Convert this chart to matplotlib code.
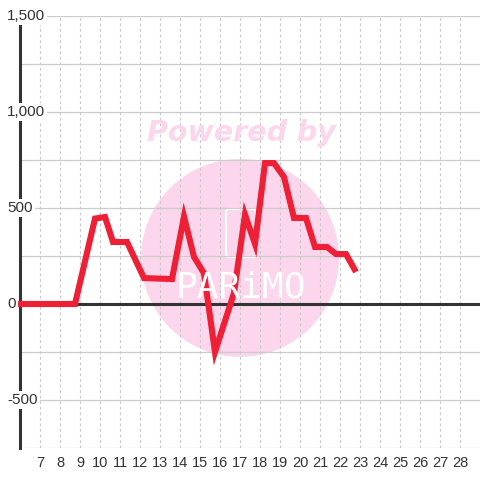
import matplotlib
matplotlib.use("Agg")
import matplotlib.pyplot as plt
from matplotlib.patches import Circle, FancyBboxPatch
import matplotlib.transforms as mtransforms

# series (x position, value)
x_vals = [5.9, 8.75, 9.75, 10.25, 10.65, 11.35, 12.2, 13.6, 14.2, 14.7, 15.2, 15.75,
          16.7, 17.25, 17.75, 18.25, 18.7, 19.2, 19.7, 20.3, 20.75, 21.35, 21.8, 22.3, 22.8]
y_vals = [0, 0, 445, 453, 323, 323, 135, 130, 455, 245, 160, -250,
          57, 465, 313, 734, 734, 661, 448, 448, 297, 297, 260, 260, 167]

x_ticks = list(range(7, 29))
y_grid = [-750, -500, -250, 0, 250, 500, 750, 1000, 1250, 1500]
y_ticks = [-500, 0, 500, 1000, 1500]
y_labels = ["-500", "0", "500", "1,000", "1,500"]

plt.rcParams['font.family'] = ['Liberation Sans', 'DejaVu Sans']

fig = plt.figure(figsize=(4.8, 4.8), dpi=100)
ax = fig.add_axes([20/480, 32/480, 460/480, 432/480])
ax.set_xlim(6, 29)
ax.set_ylim(-750, 1500)

for s in ['top', 'right', 'bottom']:
    ax.spines[s].set_visible(False)
ax.spines['left'].set_color('#333333')
ax.spines['left'].set_linewidth(2.2)
ax.spines['left'].set_zorder(3)
ax.set_yticks([])
ax.set_xticks(x_ticks)
ax.set_xticklabels([str(t) for t in x_ticks], fontsize=10.5, color='#333333')
ax.tick_params(axis='x', length=0, pad=6)

# watermark
pink = '#fcd6ec'
circ = Circle((240/480, 1 - 258/480), 99/480, transform=fig.transFigure,
              facecolor=pink, edgecolor='none', zorder=0)
ax.add_patch(circ)
box = FancyBboxPatch((226/480, 1 - 257/480), 30/480, 48/480,
                     boxstyle="round,pad=0,rounding_size=0.006",
                     transform=fig.transFigure, facecolor='none',
                     edgecolor='white', linewidth=1.6, zorder=0.5)
ax.add_patch(box)
fig.text(241/480, 1 - 287/480, "PARiMO", color='white', fontsize=26,
         family='DejaVu Sans Mono', ha='center', va='center', zorder=0.5)
fig.text(241/480, 1 - 133/480, "Powered by", color=pink, fontsize=20.5,
         fontweight='bold', fontstyle='italic', family='DejaVu Sans',
         ha='center', va='center', zorder=0)

# grid
for g in y_grid:
    ax.axhline(g, color='#cccccc', lw=0.9, zorder=1)
for t in x_ticks:
    ax.axvline(t, color='#c8c8c8', lw=0.8, ls=(0, (2.5, 2.5)), zorder=1)
ax.axhline(0, color='#333333', lw=2.2, zorder=2)

ax.plot(x_vals, y_vals, color='#ef2036', lw=4.4, solid_joinstyle='miter',
        solid_capstyle='butt', zorder=4, clip_on=False)

trans = mtransforms.blended_transform_factory(ax.transAxes, ax.transData)
for v, lab in zip(y_ticks, y_labels):
    ax.text(-13/460, v, lab, transform=trans, ha='left', va='center',
            fontsize=11, color='#333333', zorder=5,
            bbox=dict(facecolor='white', edgecolor='none', pad=1.5))

fig.savefig("out.png", dpi=100, facecolor='white')
